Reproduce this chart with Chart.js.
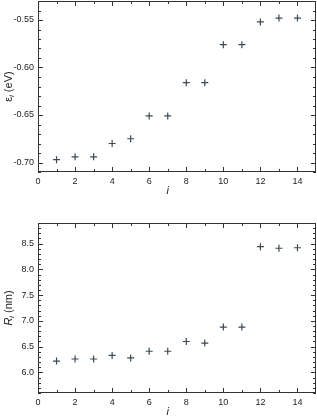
<!DOCTYPE html>
<html>
<head>
<meta charset="utf-8">
<script src="https://cdn.jsdelivr.net/npm/chart.js@4"></script>
<style>
    html, body { margin: 0; padding: 0; background: #fff; }
    body { width: 317px; height: 416px; position: relative; overflow: hidden; }
    canvas { position: absolute; left: 0; }
    #energyChart { top: 0; }
    #radiusChart { top: 208px; }
</style>
</head>
<body>
<canvas id="energyChart" width="317" height="208"></canvas>
<canvas id="radiusChart" width="317" height="208"></canvas>
<script>
// data
const stateIndex   = [1, 2, 3, 4, 5, 6, 7, 8, 9, 10, 11, 12, 13, 14];
const energyValues = [-0.697, -0.694, -0.694, -0.680, -0.675, -0.651, -0.651, -0.616, -0.616, -0.576, -0.576, -0.552, -0.548, -0.548];
const radiusValues = [6.22, 6.26, 6.26, 6.33, 6.28, 6.41, 6.41, 6.60, 6.57, 6.88, 6.88, 8.44, 8.41, 8.42];

const xTicks      = [0, 2, 4, 6, 8, 10, 12, 14];
const energyTicks = [-0.70, -0.65, -0.60, -0.55];
const radiusTicks = [6.0, 6.5, 7.0, 7.5, 8.0, 8.5];

Chart.defaults.font.family = "'Liberation Sans', Arial, sans-serif";
Chart.defaults.font.size   = 9;
Chart.defaults.color       = '#222';

const inkColor  = '#333';
const markColor = '#3b4954';

// frame with inward ticks on all four sides + axis titles (with subscripts)
const framePlugin = {
    id: 'frame',
    afterDraw(chart, args, opts) {
        const ctx = chart.ctx;
        const a   = chart.chartArea;
        const x   = chart.scales.x;
        const y   = chart.scales.y;
        ctx.save();
        ctx.strokeStyle = inkColor;
        ctx.lineWidth   = 1;
        ctx.strokeRect(a.left + 0.5, a.top + 0.5, a.right - a.left - 1, a.bottom - a.top - 1);

        ctx.beginPath();
        // x ticks
        for (let k = 1; x.min + k * opts.xMinor < x.max - 1e-9; k++) {
            let v   = x.min + k * opts.xMinor;
            let len = (Math.abs(v / opts.xMajor - Math.round(v / opts.xMajor)) < 1e-6) ? 5 : 3;
            let px  = Math.round(x.getPixelForValue(v)) + 0.5;
            ctx.moveTo(px, a.bottom);
            ctx.lineTo(px, a.bottom - len);
            ctx.moveTo(px, a.top);
            ctx.lineTo(px, a.top + len);
        }
        // y ticks
        let yStart = Math.ceil(y.min / opts.yMinor - 1e-6);
        for (let k = yStart; k * opts.yMinor <= y.max + 1e-9; k++) {
            let v   = k * opts.yMinor;
            let len = (Math.abs(v / opts.yMajor - Math.round(v / opts.yMajor)) < 1e-6) ? 5 : 3;
            let py  = Math.round(y.getPixelForValue(v)) + 0.5;
            ctx.moveTo(a.left, py);
            ctx.lineTo(a.left + len, py);
            ctx.moveTo(a.right, py);
            ctx.lineTo(a.right - len, py);
        }
        ctx.stroke();

        // x title
        ctx.fillStyle    = '#222';
        ctx.textAlign    = 'center';
        ctx.textBaseline = 'alphabetic';
        ctx.font = "italic 11px 'Liberation Sans', Arial, sans-serif";
        ctx.fillText('i', a.left + (a.right - a.left) * 0.467, a.bottom + 22);

        // y title, rotated, made of pieces
        let parts = opts.yTitle;
        let total = 0;
        parts.forEach(p => {
            ctx.font = p.font;
            p.w = ctx.measureText(p.text).width;
            total += p.w;
        });
        ctx.translate(11.5, (a.top + a.bottom) / 2);
        ctx.rotate(-Math.PI / 2);
        ctx.textAlign = 'left';
        let cx = -total / 2;
        parts.forEach(p => {
            ctx.font = p.font;
            ctx.fillText(p.text, cx, p.dy || 0);
            cx += p.w;
        });
        ctx.restore();
    }
};

const mainFont = "11px 'Liberation Sans', Arial, sans-serif";
const subFont  = "italic 7px 'Liberation Sans', Arial, sans-serif";

window.buildChart = function (canvasId, values, yTicks, yMin, yMax, yDigits, padTop, xHeight, frame) {
    const ctx = document.getElementById(canvasId);
    return new Chart(ctx, {
        type: 'scatter',
        data: {
            datasets: [
                {
                    data           : stateIndex.map((v, k) => ({x: v, y: values[k]})),
                    pointStyle     : 'cross',
                    pointRadius    : 3.5,
                    borderWidth    : 1.2,
                    borderColor    : markColor,
                    backgroundColor: markColor
                }
            ]
        },
        options: {
            responsive: false,
            animation : false,
            layout    : {autoPadding: false, padding: {left: 0, right: 1, top: padTop, bottom: 0}},
            plugins   : {
                legend : {display: false},
                tooltip: {enabled: false},
                frame  : frame
            },
            scales: {
                x: {
                    type  : 'linear',
                    min   : 0,
                    max   : 15,
                    grid  : {display: false, drawTicks: false},
                    border: {display: false},
                    ticks : {padding: 4, maxRotation: 0, callback: v => String(v)},
                    afterBuildTicks: s => { s.ticks = xTicks.map(v => ({value: v})); },
                    afterFit: s => {
                        s.height       = xHeight;
                        s.paddingLeft  = 0;
                        s.paddingRight = 0;
                    }
                },
                y: {
                    type  : 'linear',
                    min   : yMin,
                    max   : yMax,
                    grid  : {display: false, drawTicks: false},
                    border: {display: false},
                    ticks : {padding: 4, callback: v => Number(v).toFixed(yDigits)},
                    afterBuildTicks: s => { s.ticks = yTicks.map(v => ({value: v})); },
                    afterFit: s => {
                        s.width         = 38;
                        s.paddingTop    = 0;
                        s.paddingBottom = 0;
                    }
                }
            }
        },
        plugins: [framePlugin]
    });
}

buildChart('energyChart', energyValues, energyTicks, -0.71, -0.53, 2, 1, 36, {
    xMinor: 1, xMajor: 2, yMinor: 0.01, yMajor: 0.05,
    yTitle: [
        {text: 'ε', font: mainFont},
        {text: 'i', font: subFont, dy: 2},
        {text: ' (eV)', font: mainFont}
    ]
});

buildChart('radiusChart', radiusValues, radiusTicks, 5.6, 8.9, 1, 15, 23, {
    xMinor: 1, xMajor: 2, yMinor: 0.1, yMajor: 0.5,
    yTitle: [
        {text: 'R', font: "italic 11px 'Liberation Sans', Arial, sans-serif"},
        {text: 'i', font: subFont, dy: 2},
        {text: ' (nm)', font: mainFont}
    ]
});
</script>
</body>
</html>
